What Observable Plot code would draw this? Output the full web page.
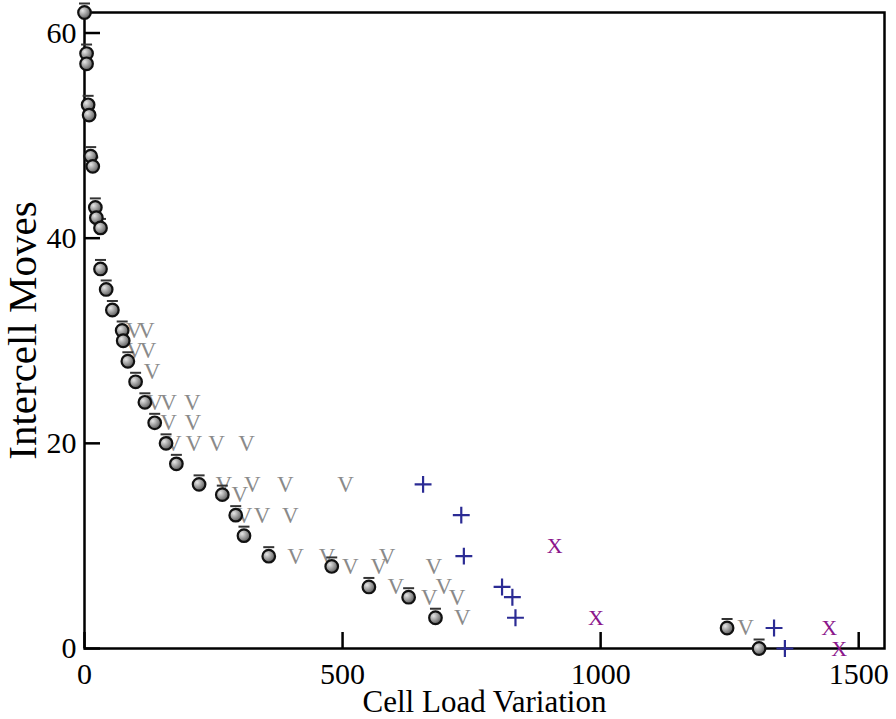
<!DOCTYPE html>
<html>
<head>
<meta charset="utf-8">
<script src="https://cdn.jsdelivr.net/npm/d3@7"></script>
<script src="https://cdn.jsdelivr.net/npm/@observablehq/plot@0.6"></script>
<style>
  html, body { margin: 0; padding: 0; background: #fff; }
</style>
</head>
<body>
<div id="chart"></div>
<script>
// ---- data ----
const circleX = [0, 4, 4, 7, 9, 12, 16, 21, 23, 31, 31, 42, 54, 73, 75, 84, 99, 117, 136, 158, 178, 222, 267, 293, 309, 357, 479, 551, 628, 680, 1245, 1307];
const circleY = [62, 58, 57, 53, 52, 48, 47, 43, 42, 41, 37, 35, 33, 31, 30, 28, 26, 24, 22, 20, 18, 16, 15, 13, 11, 9, 8, 6, 5, 3, 2, 0];

const vX = [96, 120, 97, 123, 131, 136, 163, 209, 163, 210, 172, 212, 256, 314, 270, 325, 389, 506, 301, 309, 344, 399, 409, 470, 586, 515, 570, 677, 603, 696, 668, 722, 732, 1281];
const vY = [31, 31, 29, 29, 27, 24, 24, 24, 22, 22, 20, 20, 20, 20, 16, 16, 16, 16, 15, 13, 13, 13, 9, 9, 9, 8, 8, 8, 6, 6, 5, 5, 3, 2];

const plusX = [656, 730, 735, 809, 829, 835, 1336, 1357];
const plusY = [16, 13, 9, 6, 5, 3, 2, 0];

const crossX = [911, 991, 1443, 1462];
const crossY = [10, 3, 2, 0];

const xTicks = [0, 500, 1000, 1500];
const yTicks = [0, 20, 40, 60];
const xDomain = [0, 1550];
const yDomain = [0, 62];
const xTitle = "Cell Load Variation";
const yTitle = "Intercell Moves";

const pts = (xs, ys) => xs.map((x, i) => ({x, y: ys[i]}));
const circles = pts(circleX, circleY);
const vees = pts(vX, vY);
const pluses = pts(plusX, plusY);
const crosses = pts(crossX, crossY);

const W = 896, H = 719;
const mL = 84, mR = 12, mT = 12, mB = 71;
const plotW = W - mL - mR, plotH = H - mT - mB;
const font = "'Liberation Serif', 'DejaVu Serif', serif";
const tickLen = 16;

// small bar drawn above each ball glyph
const barSymbol = {draw(ctx) { ctx.moveTo(-5.5, -9); ctx.lineTo(5.5, -9); }};

const chart = Plot.plot({
  width: W,
  height: H,
  marginLeft: mL,
  marginRight: mR,
  marginTop: mT,
  marginBottom: mB,
  style: {fontFamily: font, background: "#fff", color: "#000"},
  x: {domain: xDomain},
  y: {domain: yDomain},
  marks: [
    // inward ticks
    Plot.tickX(xTicks, {x: d => d, stroke: "#000", strokeWidth: 2.5, insetTop: plotH - tickLen}),
    Plot.tickY(yTicks, {y: d => d, stroke: "#000", strokeWidth: 2.5, insetRight: plotW - tickLen}),
    Plot.axisX({ticks: xTicks, tickSize: 0, tickPadding: 14, fontSize: 30, label: null, tickFormat: d => String(d)}),
    Plot.axisY({ticks: yTicks, tickSize: 0, tickPadding: 8, fontSize: 30, label: null, tickFormat: d => String(d)}),
    Plot.frame({stroke: "#000", strokeWidth: 2.5}),
    // V series
    Plot.text(vees, {x: "x", y: "y", text: () => "V", fill: "#8a8a8a", fontSize: 23, fontFamily: font}),
    // plus series
    Plot.dot(pluses, {x: "x", y: "y", symbol: "plus", r: 5.5, stroke: "#2b2b94", strokeWidth: 2.2}),
    // x series
    Plot.text(crosses, {x: "x", y: "y", text: () => "X", fill: "#8b168b", fontSize: 22, fontFamily: font}),
    // circle series
    Plot.dot(circles, {x: "x", y: "y", symbol: barSymbol, r: 5, stroke: "#333", strokeWidth: 2, fill: "none"}),
    Plot.dot(circles, {x: "x", y: "y", r: 6.3, fill: "url(#ballGrad)", stroke: "#111", strokeWidth: 2.2}),
    // axis titles
    Plot.text([xTitle], {frameAnchor: "bottom", dy: 54, lineAnchor: "middle", textAnchor: "middle", text: d => d, fontSize: 31, fontFamily: font, fill: "#000"}),
    Plot.text([yTitle], {frameAnchor: "left", dx: -62, rotate: -90, lineAnchor: "middle", textAnchor: "middle", text: d => d, fontSize: 41, fontFamily: font, fill: "#000"})
  ]
});

// gradient used to shade the ball glyphs
const ns = "http://www.w3.org/2000/svg";
const defs = document.createElementNS(ns, "defs");
defs.innerHTML = '<radialGradient id="ballGrad" cx="0.35" cy="0.35" r="0.75"><stop offset="0" stop-color="#e6e6e6"/><stop offset="0.6" stop-color="#8a8a8a"/><stop offset="1" stop-color="#4a4a4a"/></radialGradient>';
chart.insertBefore(defs, chart.firstChild);

document.getElementById("chart").appendChild(chart);
</script>
</body>
</html>
